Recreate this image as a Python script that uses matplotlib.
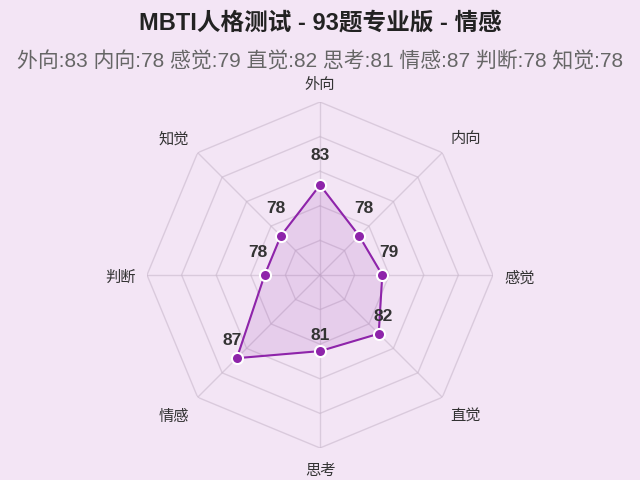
import numpy as np
import matplotlib
matplotlib.use("Agg")
import matplotlib.pyplot as plt

plt.rcParams['font.family'] = ['Liberation Sans', 'Noto Sans CJK SC', 'DejaVu Sans']

# data
dims = ['外向', '内向', '感觉', '直觉', '思考', '情感', '判断', '知觉']
scores = [83, 78, 79, 82, 81, 87, 78, 78]
title = 'MBTI人格测试 - 93题专业版 - 情感'
r_min, r_max = 70, 95
rings = [75, 80, 85, 90, 95]

bg = '#f3e5f5'
purple = '#8e24aa'
grid_c = '#c9b8cc'

n = len(dims)
theta = np.linspace(0, 2 * np.pi, n, endpoint=False)
theta_c = np.append(theta, theta[0])
vals_c = np.append(scores, scores[0])

fig = plt.figure(figsize=(6.4, 4.8), dpi=100, facecolor=bg)
ax = fig.add_axes([0.2297, 0.0667, 0.5406, 0.7208], projection='polar')
ax.set_facecolor(bg)
ax.set_theta_zero_location('N')
ax.set_theta_direction(-1)
ax.set_ylim(r_min, r_max)
ax.grid(False)
ax.spines['polar'].set_visible(False)
ax.set_xticks([])
ax.set_yticks([])
ax.patch.set_alpha(0)

# polygon grid
for r in rings:
    ax.plot(theta_c, [r] * (n + 1), color=grid_c, lw=1, alpha=0.6, zorder=1)
for t in theta:
    ax.plot([t, t], [r_min, r_max], color=grid_c, lw=1, alpha=0.6, zorder=1)

# data polygon
ax.fill(theta_c, vals_c, color=purple, alpha=0.12, zorder=2)
ax.plot(theta_c, vals_c, color=purple, lw=1.5, zorder=3)
ax.plot(theta, scores, 'o', color=purple, ms=8, mec='white', mew=1.5, zorder=4)

for t, v in zip(theta, scores):
    ax.annotate(str(v), (t, v + 1), xytext=(0, 16), textcoords='offset points',
                ha='center', va='center', fontsize=12.5, fontweight='bold',
                color='#333333', zorder=5)

# axis labels: keep a gap between outer vertex and the label box
gap, hw, hh = 12, 15, 8  # pixels
px = 0.72
for t, d in zip(theta, dims):
    sx = np.sign(round(np.sin(t), 3))
    sy = np.sign(round(np.cos(t), 3))
    ox = gap * np.sin(t) + hw * sx
    oy = gap * np.cos(t) + hh * sy - 3
    ax.annotate(d, (t, r_max), xytext=(ox * px, oy * px), textcoords='offset points',
                ha='center', va='center', fontsize=11, color='#333333',
                annotation_clip=False)

fig.text(0.5, 1 - 23 / 480, title, ha='center', va='center',
         fontsize=17, fontweight='bold', color='#222222')
sub = ' '.join(f'{d}:{v}' for d, v in zip(dims, scores))
fig.text(0.5, 1 - 61 / 480, sub, ha='center', va='center',
         fontsize=15, color='#666666')

fig.savefig('out.png', dpi=100, facecolor=bg)
